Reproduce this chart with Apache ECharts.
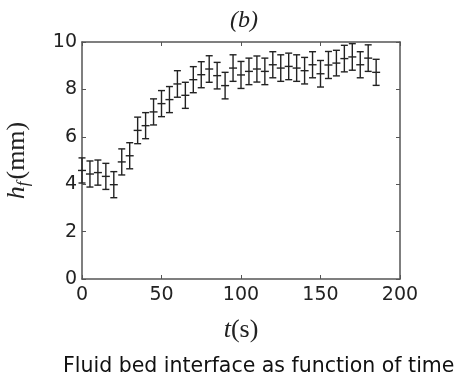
<!DOCTYPE html>
<html>
<head>
<meta charset="utf-8">
<script src="https://cdn.jsdelivr.net/npm/echarts@6/dist/echarts.min.js"></script>
<style>
  html, body { margin: 0; padding: 0; background: #fff; }
  #chart { width: 458px; height: 374px; }
</style>
</head>
<body>
<div id="chart"></div>
<script>
// Interface height measurements, one every 5 s
const times = [0, 5, 10, 15, 20, 25, 30, 35, 40, 45, 50, 55, 60, 65, 70, 75, 80, 85, 90, 95,
               100, 105, 110, 115, 120, 125, 130, 135, 140, 145, 150, 155, 160, 165, 170, 175, 180, 185];
const heights = [4.58, 4.43, 4.49, 4.33, 3.98, 4.94, 5.20, 6.27, 6.47, 7.05, 7.40, 7.57, 8.23, 7.75, 8.41, 8.62, 8.86, 8.58, 8.16, 8.90,
                 8.61, 8.76, 8.86, 8.76, 9.04, 8.90, 8.97, 8.90, 8.79, 9.04, 8.66, 9.03, 9.11, 9.30, 9.37, 9.04, 9.32, 8.72];
const errors = [0.53, 0.55, 0.53, 0.55, 0.55, 0.55, 0.55, 0.56, 0.55, 0.55, 0.55, 0.55, 0.56, 0.55, 0.55, 0.55, 0.56, 0.56, 0.56, 0.56,
                0.57, 0.56, 0.55, 0.56, 0.55, 0.56, 0.56, 0.56, 0.56, 0.55, 0.56, 0.57, 0.54, 0.56, 0.56, 0.55, 0.56, 0.55];
const xTicks = [0, 50, 100, 150, 200];
const yTicks = [0, 2, 4, 6, 8, 10];

const barData = times.map((t, i) => [t, heights[i] - errors[i], heights[i] + errors[i], heights[i]]);

const ink = '#222';
const frame = '#555';
const tickFont = { fontFamily: 'DejaVu Sans', fontSize: 19, color: '#222' };

function errorBar(params, api) {
  const x = api.value(0);
  const lo = api.coord([x, api.value(1)]);
  const hi = api.coord([x, api.value(2)]);
  const mid = api.coord([x, api.value(3)]);
  const cap = 3.5;
  const st = { stroke: ink, lineWidth: 1.4 };
  return {
    type: 'group',
    children: [
      { type: 'line', shape: { x1: lo[0], y1: lo[1], x2: hi[0], y2: hi[1] }, style: st },
      { type: 'line', shape: { x1: lo[0] - cap, y1: lo[1], x2: lo[0] + cap, y2: lo[1] }, style: st },
      { type: 'line', shape: { x1: hi[0] - cap, y1: hi[1], x2: hi[0] + cap, y2: hi[1] }, style: st },
      { type: 'line', shape: { x1: mid[0] - cap - 0.5, y1: mid[1], x2: mid[0] + cap + 0.5, y2: mid[1] }, style: st }
    ]
  };
}

const chart = echarts.init(document.getElementById('chart'), null, { renderer: 'canvas' });

const axisLineStyle = { show: true, onZero: false, lineStyle: { color: frame, width: 1.5 } };
const innerTick = { show: true, inside: true, length: 4, lineStyle: { color: frame, width: 1 } };

chart.setOption({
  animation: false,
  backgroundColor: '#fff',
  grid: { left: 82, right: 58, top: 42, bottom: 95, outerBoundsMode: 'none', containLabel: false },
  xAxis: [
    {
      type: 'value', min: xTicks[0], max: xTicks[xTicks.length - 1], interval: 50,
      position: 'bottom',
      axisLine: axisLineStyle, axisTick: innerTick, splitLine: { show: false },
      axisLabel: Object.assign({ margin: 7 }, tickFont),
      name: '{i|t}{r|(s)}', nameLocation: 'middle', nameGap: 38,
      nameTextStyle: {
        rich: {
          i: { fontFamily: 'Liberation Serif', fontStyle: 'italic', fontSize: 26, color: ink },
          r: { fontFamily: 'Liberation Serif', fontSize: 26, color: ink }
        }
      }
    },
    {
      type: 'value', min: xTicks[0], max: xTicks[xTicks.length - 1], interval: 50,
      position: 'top',
      axisLine: axisLineStyle, axisTick: innerTick, splitLine: { show: false },
      axisLabel: { show: false }
    }
  ],
  yAxis: [
    {
      type: 'value', min: yTicks[0], max: yTicks[yTicks.length - 1], interval: 2,
      position: 'left',
      axisLine: axisLineStyle, axisTick: innerTick, splitLine: { show: false },
      axisLabel: Object.assign({ margin: 5 }, tickFont),
      name: '{i|h}{s|f}{r|(mm)}', nameLocation: 'middle', nameGap: 50, nameRotate: 90,
      nameTextStyle: {
        rich: {
          i: { fontFamily: 'Liberation Serif', fontStyle: 'italic', fontSize: 26, color: ink },
          s: { fontFamily: 'Liberation Serif', fontStyle: 'italic', fontSize: 17, color: ink, padding: [12, 2, 0, 0] },
          r: { fontFamily: 'Liberation Serif', fontSize: 26, color: ink }
        }
      }
    },
    {
      type: 'value', min: yTicks[0], max: yTicks[yTicks.length - 1], interval: 2,
      position: 'right',
      axisLine: axisLineStyle, axisTick: innerTick, splitLine: { show: false },
      axisLabel: { show: false }
    }
  ],
  graphic: [
    {
      type: 'text',
      x: 244,
      y: 21,
      style: {
        text: '(b)', font: 'italic 24px "Liberation Serif"', fill: ink,
        textAlign: 'center', textVerticalAlign: 'middle'
      }
    },
    {
      type: 'text',
      left: 63,
      top: 356,
      style: { text: 'Fluid bed interface as function of time', font: '20.5px "DejaVu Sans"', fill: '#111' }
    }
  ],
  series: [
    {
      type: 'custom',
      xAxisIndex: 0,
      yAxisIndex: 0,
      renderItem: errorBar,
      encode: { x: 0, y: [1, 2] },
      data: barData,
      z: 5
    }
  ]
});
</script>
</body>
</html>
